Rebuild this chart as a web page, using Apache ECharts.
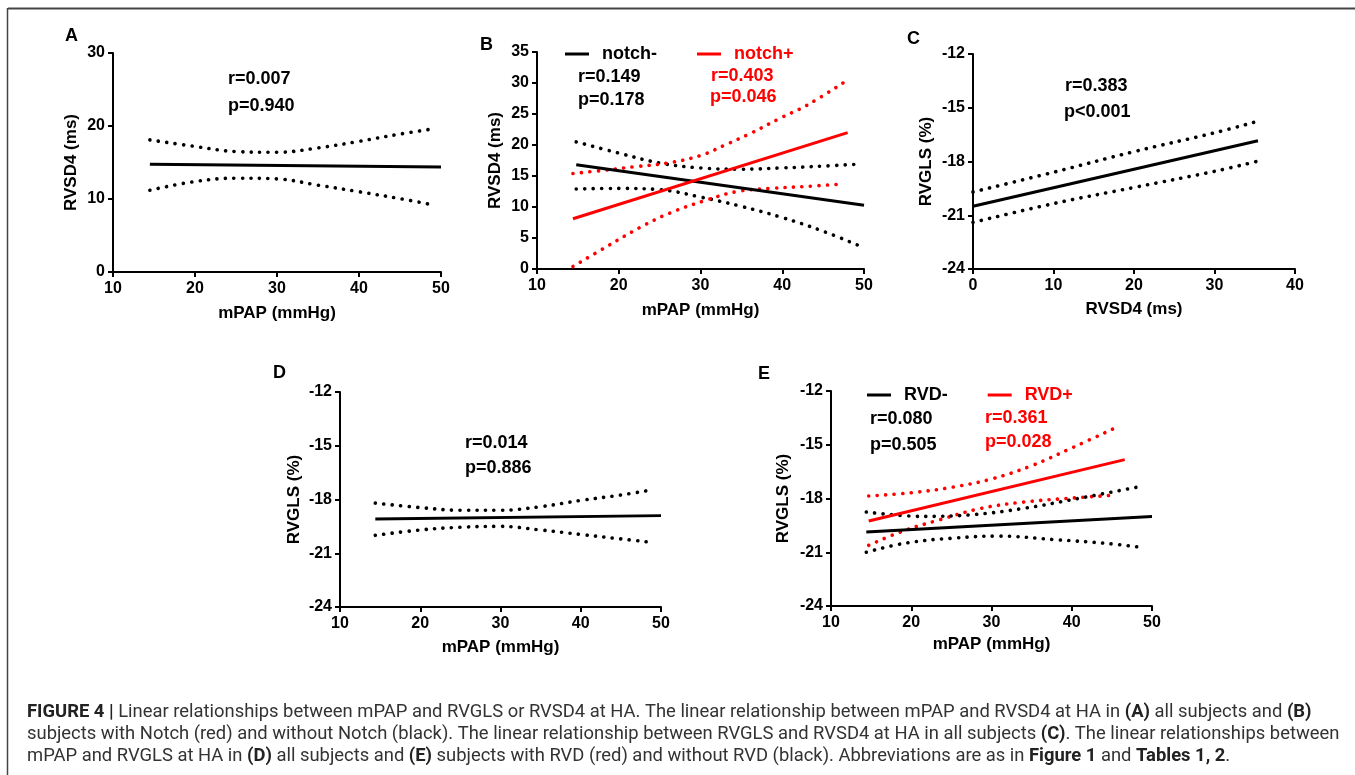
<!DOCTYPE html>
<html>
<head>
<meta charset="utf-8">
<script src="https://cdn.jsdelivr.net/npm/echarts@6/dist/echarts.min.js"></script>
<style>
  html, body { margin: 0; padding: 0; background: #fff; }
  #chart { width: 1355px; height: 775px; }
</style>
</head>
<body>
<div id="chart"></div>
<script>
// Panel A: mPAP vs RVSD4, all subjects
const aFit = [[14.5, 14.75], [50, 14.38]];
const aUpper = [[14.5, 18.1], [20, 17.2], [25, 16.5], [30, 16.4], [35, 17.0], [40, 17.9], [45, 18.9], [49, 19.6]];
const aLower = [[14.5, 11.2], [20, 12.4], [25, 12.85], [30, 12.75], [35, 11.9], [40, 11.0], [45, 10.05], [49, 9.2]];

// Panel B: notch- (black) / notch+ (red)
const bBlackFit = [[14.8, 16.8], [50, 10.3]];
const bBlackUpper = [[14.8, 20.5], [20, 18.7], [25, 17.1], [30, 16.3], [35, 16.1], [40, 16.3], [45, 16.6], [49.2, 16.9]];
const bBlackLower = [[14.8, 12.9], [20, 13.0], [25, 12.8], [30, 11.6], [35, 10.1], [40, 8.3], [45, 6.1], [49.7, 3.6]];
const bRedFit = [[14.4, 8.1], [48.0, 22.0]];
const bRedUpper = [[14.4, 15.4], [18, 15.9], [22, 16.5], [26, 17.1], [30, 18.3], [33, 20.0], [36, 21.8], [40, 24.5], [43, 26.4], [47.9, 30.4]];
const bRedLower = [[14.4, 0.4], [18.5, 3.6], [22.6, 6.7], [26.2, 9.0], [30.7, 11.1], [34.5, 12.5], [38.6, 13.0], [42.8, 13.3], [47.3, 13.7]];

// Panel C: RVSD4 vs RVGLS
const cFit = [[0, -20.5], [35.4, -16.84]];
const cUpper = [[0, -19.7], [10, -18.6], [20, -17.45], [30, -16.4], [35, -15.8]];
const cLower = [[0, -21.4], [10, -20.35], [20, -19.45], [30, -18.55], [35.2, -18.0]];

// Panel D: mPAP vs RVGLS, all subjects
const dFit = [[14.4, -19.09], [50, -18.9]];
const dUpper = [[14.4, -18.2], [20, -18.45], [25, -18.6], [30, -18.6], [35, -18.4], [40, -18.05], [45, -17.75], [49, -17.45]];
const dLower = [[14.4, -20.0], [20, -19.7], [25, -19.55], [30, -19.5], [35, -19.7], [40, -19.95], [45, -20.2], [49, -20.4]];

// Panel E: RVD- (black) / RVD+ (red)
const eBlackFit = [[14.4, -19.87], [50, -19.0]];
const eBlackUpper = [[14.4, -18.75], [21.5, -19.0], [27.7, -18.9], [34, -18.55], [40.2, -18.05], [48.9, -17.3]];
const eBlackLower = [[14.4, -21.0], [19.4, -20.48], [25.6, -20.2], [30.9, -20.1], [38, -20.3], [44.2, -20.5], [48.9, -20.74]];
const eRedFit = [[14.7, -19.26], [46.6, -15.83]];
const eRedUpper = [[14.7, -17.86], [20.2, -17.67], [25.2, -17.36], [30.1, -16.9], [35.1, -16.15], [40.1, -15.16], [45.7, -14.0]];
const eRedLower = [[14.7, -20.61], [19.0, -19.81], [23.6, -19.18], [28.6, -18.56], [34, -18.2], [40.2, -17.97], [45.1, -17.82]];

const FONT = "'Liberation Sans', Arial, sans-serif";
const RED = '#ff0000';

// grids: A, B, C, D, E
const grids = [
  { left: 113, top: 53, width: 328, height: 219 },
  { left: 537, top: 52, width: 327, height: 217 },
  { left: 973, top: 54, width: 322, height: 215 },
  { left: 340, top: 392, width: 321, height: 215 },
  { left: 831, top: 391, width: 321, height: 215 }
];

function xAxis(i, name, min, max, gap) {
  return {
    type: 'value', gridIndex: i, min: min, max: max, interval: 10,
    name: name, nameLocation: 'middle', nameGap: gap,
    nameTextStyle: { fontFamily: FONT, fontWeight: 'bold', fontSize: 17, color: '#000' },
    axisLine: { onZero: false, lineStyle: { color: '#000', width: 2 } },
    axisTick: { length: 5, lineStyle: { width: 2 } },
    axisLabel: { fontFamily: FONT, fontWeight: 'bold', fontSize: 16, color: '#000', margin: 9 },
    splitLine: { show: false }
  };
}
function yAxis(i, name, min, max, step, gap) {
  return {
    type: 'value', gridIndex: i, min: min, max: max, interval: step,
    name: name, nameLocation: 'middle', nameGap: gap,
    nameTextStyle: { fontFamily: FONT, fontWeight: 'bold', fontSize: 17, color: '#000' },
    axisLine: { show: true, onZero: false, lineStyle: { color: '#000', width: 2 } },
    axisTick: { show: true, length: 5, lineStyle: { width: 2 } },
    axisLabel: { fontFamily: FONT, fontWeight: 'bold', fontSize: 16, color: '#000', margin: 8 },
    splitLine: { show: false }
  };
}
function line(name, data, i, color, dotted) {
  return {
    name: name, type: 'line', xAxisIndex: i, yAxisIndex: i, data: data,
    smooth: dotted ? 0.4 : false, symbol: 'none', silent: true,
    itemStyle: { color: color },
    lineStyle: dotted
      ? { color: color, width: 3.6, type: [0.1, 8.4], cap: 'round' }
      : { color: color, width: 3 }
  };
}
function label(x, y, text, color, size) {
  return {
    type: 'text', x: x, y: y,
    style: { text: text, fill: color || '#000', fontFamily: FONT, fontWeight: 'bold', fontSize: size || 18, verticalAlign: 'middle' }
  };
}
function legend(left, top, items) {
  return {
    left: left, top: top, icon: 'rect', itemWidth: 24, itemHeight: 3, itemGap: 40,
    selectedMode: false,
    textStyle: { fontFamily: FONT, fontWeight: 'bold', fontSize: 18, padding: [0, 0, 0, 8] },
    data: items
  };
}

const capFont = "Roboto, 'Liberation Sans', sans-serif";
const capSize = 18.4;
const capRich = { b: { fontWeight: 'bold', fontFamily: capFont, fontSize: capSize, fill: '#222' } };
const captionLines = [
  '{b|FIGURE 4 |} Linear relationships between mPAP and RVGLS or RVSD4 at HA. The linear relationship between mPAP and RVSD4 at HA in {b|(A)} all subjects and {b|(B)}',
  'subjects with Notch (red) and without Notch (black). The linear relationship between RVGLS and RVSD4 at HA in all subjects {b|(C)}. The linear relationships between',
  'mPAP and RVGLS at HA in {b|(D)} all subjects and {b|(E)} subjects with RVD (red) and without RVD (black). Abbreviations are as in {b|Figure 1} and {b|Tables 1, 2}.'
];

const chart = echarts.init(document.getElementById('chart'));
chart.setOption({
  backgroundColor: '#fff',
  animation: false,
  grid: grids,
  xAxis: [
    xAxis(0, 'mPAP (mmHg)', 10, 50, 33),
    xAxis(1, 'mPAP (mmHg)', 10, 50, 33),
    xAxis(2, 'RVSD4 (ms)', 0, 40, 32),
    xAxis(3, 'mPAP (mmHg)', 10, 50, 32),
    xAxis(4, 'mPAP (mmHg)', 10, 50, 30)
  ],
  yAxis: [
    yAxis(0, 'RVSD4 (ms)', 0, 30, 10, 33),
    yAxis(1, 'RVSD4 (ms)', 0, 35, 5, 33),
    yAxis(2, 'RVGLS (%)', -24, -12, 3, 38),
    yAxis(3, 'RVGLS (%)', -24, -12, 3, 37),
    yAxis(4, 'RVGLS (%)', -24, -12, 3, 39)
  ],
  legend: [
    legend(560, 40, [{ name: 'notch-', textStyle: { color: '#000' } }, { name: 'notch+', textStyle: { color: RED } }]),
    legend(862, 381, [{ name: 'RVD-', textStyle: { color: '#000' } }, { name: 'RVD+', textStyle: { color: RED } }])
  ],
  series: [
    line('A fit', aFit, 0, '#000', false),
    line('A upper', aUpper, 0, '#000', true),
    line('A lower', aLower, 0, '#000', true),

    line('notch- upper', bBlackUpper, 1, '#000', true),
    line('notch- lower', bBlackLower, 1, '#000', true),
    line('notch+ upper', bRedUpper, 1, RED, true),
    line('notch+ lower', bRedLower, 1, RED, true),
    line('notch-', bBlackFit, 1, '#000', false),
    line('notch+', bRedFit, 1, RED, false),

    line('C fit', cFit, 2, '#000', false),
    line('C upper', cUpper, 2, '#000', true),
    line('C lower', cLower, 2, '#000', true),

    line('D fit', dFit, 3, '#000', false),
    line('D upper', dUpper, 3, '#000', true),
    line('D lower', dLower, 3, '#000', true),

    line('RVD+ upper', eRedUpper, 4, RED, true),
    line('RVD+ lower', eRedLower, 4, RED, true),
    line('RVD- upper', eBlackUpper, 4, '#000', true),
    line('RVD- lower', eBlackLower, 4, '#000', true),
    line('RVD-', eBlackFit, 4, '#000', false),
    line('RVD+', eRedFit, 4, RED, false)
  ],
  graphic: [
    // figure frame: top and left rules
    { type: 'line', shape: { x1: 8, y1: 8.5, x2: 1355, y2: 8.5 }, style: { stroke: '#444', lineWidth: 2 } },
    { type: 'line', shape: { x1: 7.5, y1: 8, x2: 7.5, y2: 775 }, style: { stroke: '#444', lineWidth: 1.5 } },

    // panel letters
    label(65, 36, 'A', '#000', 18),
    label(480, 45, 'B', '#000', 18),
    label(907, 39, 'C', '#000', 18),
    label(273, 373, 'D', '#000', 18),
    label(758, 374, 'E', '#000', 18),

    // statistics
    label(228, 79, 'r=0.007'), label(228, 106, 'p=0.940'),
    label(578, 77, 'r=0.149'), label(578, 100, 'p=0.178'),
    label(711, 76, 'r=0.403', RED), label(710, 97, 'p=0.046', RED),
    label(1065, 86, 'r=0.383'), label(1064, 112, 'p<0.001'),
    label(465, 443, 'r=0.014'), label(465, 468, 'p=0.886'),
    label(870, 419, 'r=0.080'), label(870, 445, 'p=0.505'),
    label(985, 418, 'r=0.361', RED), label(985, 442, 'p=0.028', RED),

    // caption
    ...captionLines.map((t, k) => ({
      type: 'text', x: 27, y: 712 + k * 22,
      style: { text: t, rich: capRich, fill: '#333', fontFamily: capFont, fontSize: capSize, verticalAlign: 'middle' }
    }))
  ]
});
</script>
</body>
</html>
